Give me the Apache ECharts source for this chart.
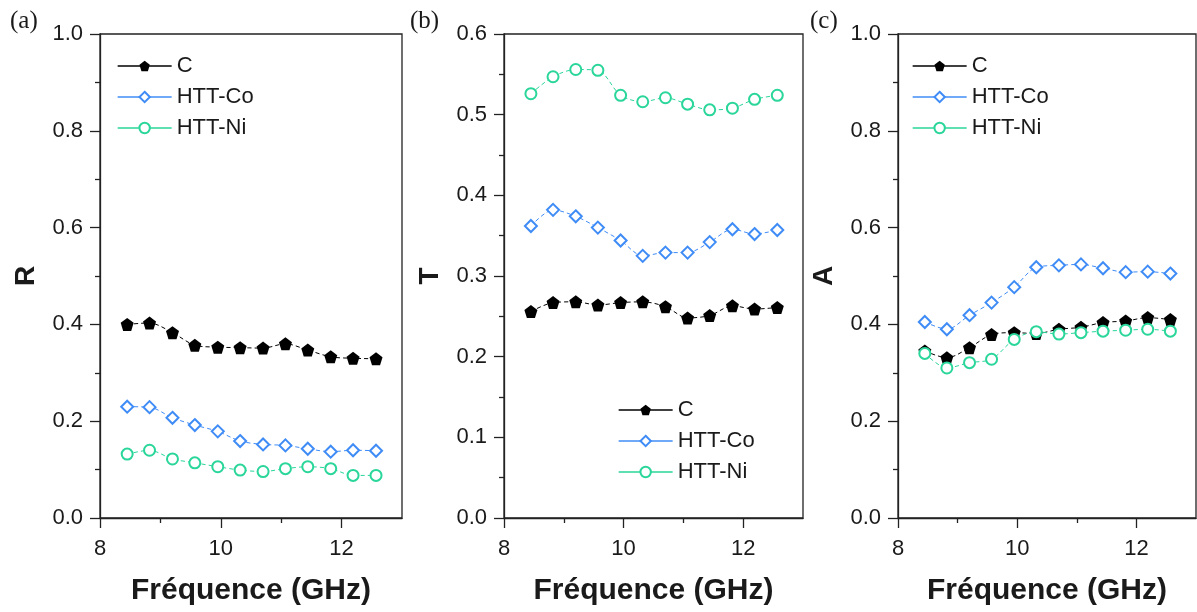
<!DOCTYPE html>
<html>
<head>
<meta charset="utf-8">
<script src="https://cdn.jsdelivr.net/npm/echarts@6/dist/echarts.min.js"></script>
<style>
html,body{margin:0;padding:0;background:#fff;}
#chart{width:1197px;height:612px;}
</style>
</head>
<body>
<div id="chart"></div>
<script>
// ---- data ----
const freq = [8.45, 8.82, 9.2, 9.57, 9.95, 10.32, 10.7, 11.07, 11.44, 11.82, 12.19, 12.57];
const seriesNames = ['C', 'HTT-Co', 'HTT-Ni'];
const panelLabels = ['(a)', '(b)', '(c)'];
const yNames = ['R', 'T', 'A'];
const xTickValues = [8, 10, 12];
const xMinorValues = [9, 11];

const R_C  = [0.400, 0.403, 0.383, 0.357, 0.353, 0.352, 0.351, 0.360, 0.347, 0.333, 0.330, 0.329];
const R_Co = [0.230, 0.229, 0.207, 0.192, 0.179, 0.159, 0.152, 0.150, 0.143, 0.137, 0.140, 0.139];
const R_Ni = [0.132, 0.140, 0.122, 0.114, 0.106, 0.099, 0.096, 0.102, 0.106, 0.102, 0.088, 0.088];

const T_C  = [0.256, 0.267, 0.268, 0.264, 0.267, 0.268, 0.262, 0.248, 0.251, 0.263, 0.259, 0.261];
const T_Co = [0.362, 0.382, 0.374, 0.360, 0.344, 0.325, 0.329, 0.329, 0.342, 0.358, 0.352, 0.357];
const T_Ni = [0.526, 0.547, 0.556, 0.555, 0.524, 0.516, 0.521, 0.513, 0.506, 0.508, 0.519, 0.524];

const A_C  = [0.345, 0.331, 0.352, 0.379, 0.383, 0.381, 0.390, 0.394, 0.404, 0.407, 0.414, 0.410];
const A_Co = [0.405, 0.390, 0.419, 0.445, 0.477, 0.518, 0.522, 0.524, 0.516, 0.508, 0.509, 0.505];
const A_Ni = [0.340, 0.310, 0.321, 0.328, 0.369, 0.385, 0.380, 0.383, 0.386, 0.388, 0.390, 0.386];

const panelData = [[R_C, R_Co, R_Ni], [T_C, T_Co, T_Ni], [A_C, A_Co, A_Ni]];
const yMax = [1.0, 0.6, 1.0];
const yInterval = [0.2, 0.1, 0.2];

// ---- style ----
const colors = ['#000000', '#3f8cf6', '#2ad69a'];
const pentagon = 'path://M0,-10 L9.51,-3.09 L5.88,8.09 L-5.88,8.09 L-9.51,-3.09 Z';
const symbols = [pentagon, 'emptyDiamond', 'emptyCircle'];
const symbolSizes = [13, 12, 11];
const grids = [
  {left: 100, top: 34, width: 302, height: 484},
  {left: 504, top: 34, width: 299, height: 484},
  {left: 898, top: 34, width: 298, height: 484}
];
const legendPos = [
  {left: 112, top: 50},
  {left: 613, top: 394},
  {left: 907, top: 50}
];
const labelPos = [10, 410, 810];
const txt = '#1a1a1a';
const font = 'Liberation Sans, Arial, sans-serif';

const option = {
  animation: false,
  backgroundColor: '#fff',
  grid: grids.map(g => Object.assign({show: true, borderColor: '#222', borderWidth: 1.3, backgroundColor: 'transparent'}, g)),
  xAxis: [],
  yAxis: [],
  legend: [],
  series: [],
  graphic: panelLabels.map((t, i) => ({
    type: 'text', left: labelPos[i], top: 9,
    style: {text: t, font: '25px "Liberation Serif", "Times New Roman", serif', fill: txt}
  }))
};

for (let p = 0; p < 3; p++) {
  option.xAxis.push({
    type: 'value', gridIndex: p, position: 'bottom', min: 8, max: 13, interval: 1,
    name: 'Fréquence (GHz)', nameLocation: 'middle', nameGap: 58,
    nameTextStyle: {fontFamily: font, fontSize: 30, fontWeight: 'bold', color: txt},
    axisLine: {lineStyle: {color: '#222', width: 1.3}},
    axisTick: {show: true, length: 10, inside: false, customValues: xTickValues, lineStyle: {color: '#222', width: 1.3}},
    axisLabel: {customValues: xTickValues, margin: 20, fontFamily: font, fontSize: 22, color: txt},
    splitLine: {show: false}
  });
  option.xAxis.push({
    type: 'value', gridIndex: p, position: 'bottom', min: 8, max: 13, interval: 1,
    axisLine: {show: false},
    axisTick: {show: true, length: 5, inside: false, customValues: xMinorValues, lineStyle: {color: '#222', width: 1.3}},
    axisLabel: {show: false},
    splitLine: {show: false}
  });
  option.yAxis.push({
    type: 'value', gridIndex: p, min: 0, max: yMax[p], interval: yInterval[p],
    name: yNames[p], nameLocation: 'middle', nameGap: 60, nameRotate: 90,
    nameTextStyle: {fontFamily: font, fontSize: 28, fontWeight: 'bold', color: txt},
    axisLine: {show: true, lineStyle: {color: '#222', width: 1.3}},
    axisTick: {show: true, length: 10, inside: false, lineStyle: {color: '#222', width: 1.3}},
    minorTick: {show: true, splitNumber: 2, length: 5, lineStyle: {color: '#222', width: 1.3}},
    axisLabel: {margin: 17, fontFamily: font, fontSize: 22, color: txt, formatter: v => v.toFixed(1)},
    splitLine: {show: false}
  });
  option.legend.push({
    orient: 'vertical', left: legendPos[p].left, top: legendPos[p].top,
    itemWidth: 54, itemHeight: 13, itemGap: 9,
    data: seriesNames,
    textStyle: {fontFamily: font, fontSize: 22, color: txt},
    lineStyle: {type: 'solid', width: 1.3},
    selectedMode: false
  });
  for (let s = 0; s < 3; s++) {
    option.series.push({
      type: 'line', name: seriesNames[s], xAxisIndex: p * 2, yAxisIndex: p,
      data: freq.map((f, i) => [f, panelData[p][s][i]]),
      symbol: symbols[s], symbolSize: symbolSizes[s], smooth: 0.3,
      lineStyle: {color: colors[s], width: 1, type: [4, 3]},
      itemStyle: {color: colors[s], borderColor: colors[s], borderWidth: s === 0 ? 0 : 1.2},
      emphasis: {disabled: true},
      z: 2 + s
    });
  }
}

const chart = echarts.init(document.getElementById('chart'), null, {renderer: 'canvas'});
chart.setOption(option);
</script>
</body>
</html>
